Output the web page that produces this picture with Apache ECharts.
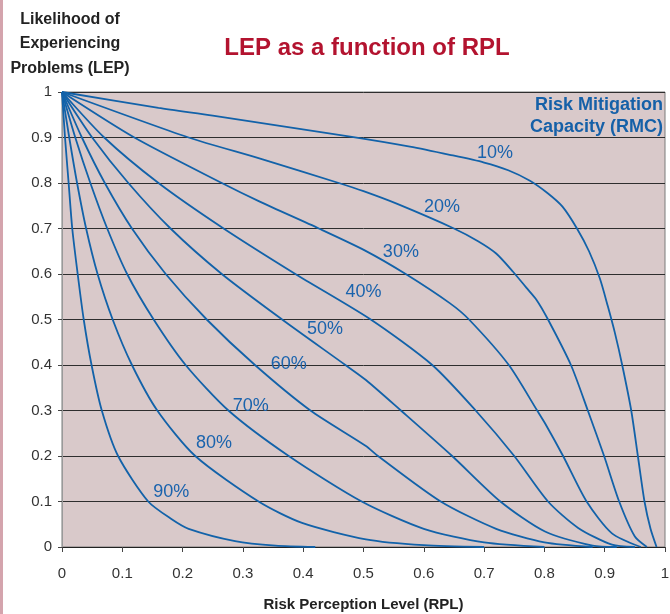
<!DOCTYPE html>
<html>
<head>
<meta charset="utf-8">
<script src="https://cdn.jsdelivr.net/npm/echarts@6/dist/echarts.min.js"></script>
<style>
html,body{margin:0;padding:0;background:#fff;}
#chart{width:670px;height:614px;}
</style>
</head>
<body>
<div id="chart"></div>
<script>
// RMC curve names
var curveNames = ['10%','20%','30%','40%','50%','60%','70%','80%','90%'];

// [RPL, LEP] points
var rmc10 = [[0,1],[0.16,0.965],[0.25,0.948],[0.478,0.902],[0.577,0.88],[0.643,0.862],[0.70,0.845],[0.74,0.828],[0.776,0.805],[0.805,0.778],[0.83,0.748],[0.854,0.7],[0.874,0.65],[0.892,0.59],[0.905,0.53],[0.917,0.47],[0.929,0.4],[0.944,0.3],[0.955,0.2],[0.966,0.1],[0.976,0.04],[0.986,0]];
var rmc20 = [[0,1],[0.21,0.9],[0.33,0.853],[0.459,0.8],[0.5,0.782],[0.556,0.754],[0.65,0.7],[0.69,0.672],[0.72,0.645],[0.748,0.605],[0.77,0.57],[0.787,0.543],[0.806,0.5],[0.844,0.4],[0.872,0.3],[0.899,0.2],[0.924,0.1],[0.95,0.023],[0.97,0]];
var rmc30 = [[0,1],[0.12,0.9],[0.265,0.8],[0.328,0.759],[0.426,0.7],[0.502,0.652],[0.57,0.6],[0.643,0.536],[0.675,0.5],[0.741,0.4],[0.788,0.3],[0.801,0.272],[0.831,0.2],[0.87,0.1],[0.912,0.03],[0.96,0]];
var rmc40 = [[0,1],[0.07,0.9],[0.16,0.8],[0.268,0.7],[0.387,0.6],[0.512,0.5],[0.614,0.4],[0.686,0.3],[0.75,0.2],[0.806,0.1],[0.856,0.042],[0.912,0.005],[0.95,0]];
var rmc50 = [[0,1],[0.05,0.9],[0.11,0.8],[0.18,0.7],[0.265,0.6],[0.365,0.5],[0.47,0.4],[0.504,0.367],[0.562,0.3],[0.647,0.2],[0.727,0.1],[0.801,0.034],[0.88,0.003],[0.92,0]];
var rmc60 = [[0,1],[0.033,0.9],[0.071,0.8],[0.116,0.7],[0.172,0.6],[0.24,0.5],[0.32,0.4],[0.412,0.3],[0.504,0.222],[0.524,0.2],[0.628,0.1],[0.72,0.04],[0.8,0.01],[0.88,0]];
var rmc70 = [[0,1],[0.022,0.9],[0.047,0.8],[0.075,0.7],[0.108,0.6],[0.152,0.5],[0.205,0.4],[0.276,0.3],[0.376,0.2],[0.497,0.1],[0.6,0.04],[0.7,0.01],[0.8,0]];
var rmc80 = [[0,1],[0.012,0.9],[0.025,0.8],[0.04,0.7],[0.059,0.6],[0.084,0.5],[0.116,0.4],[0.158,0.3],[0.221,0.2],[0.326,0.1],[0.398,0.053],[0.504,0.017],[0.6,0.004],[0.7,0]];
var rmc90 = [[0,1],[0.005,0.9],[0.011,0.8],[0.017,0.7],[0.026,0.6],[0.036,0.5],[0.049,0.4],[0.066,0.3],[0.093,0.2],[0.143,0.1],[0.182,0.061],[0.21,0.04],[0.287,0.013],[0.354,0.003],[0.42,0]];

// label anchor points (data coordinates) for the curve labels
var labelAnchors = [[0.718,0.866],[0.630,0.747],[0.562,0.648],[0.500,0.560],[0.436,0.479],[0.376,0.402],[0.313,0.310],[0.252,0.229],[0.181,0.121]];

var curves = [rmc10, rmc20, rmc30, rmc40, rmc50, rmc60, rmc70, rmc80, rmc90];

var NARROW = "'Liberation Sans Narrow', 'Arial Narrow', 'Liberation Sans', Arial, sans-serif";
var REG = "'Liberation Sans', Arial, sans-serif";
var BLUE = '#1262a9';

var chart = echarts.init(document.getElementById('chart'), null, {renderer: 'canvas'});

var series = curves.map(function (pts, i) {
  return {
    name: curveNames[i],
    type: 'line',
    data: pts,
    smooth: 0.25,
    symbol: 'none',
    lineStyle: {color: BLUE, width: 1.8},
    z: 3,
    markPoint: {
      symbol: 'circle',
      symbolSize: 1,
      itemStyle: {color: 'rgba(0,0,0,0)'},
      label: {
        show: true,
        position: 'inside',
        formatter: curveNames[i],
        color: '#1a63ad',
        fontFamily: NARROW,
        fontSize: 18
      },
      data: [{coord: labelAnchors[i]}]
    }
  };
});

var option = {
  backgroundColor: '#ffffff',
  animation: false,
  grid: {
    left: 62, right: 5, top: 92, bottom: 67,
    outerBoundsMode: 'none',
    containLabel: false,
    show: true,
    backgroundColor: '#d9c9ca',
    borderColor: '#7a7a7a',
    borderWidth: 1
  },
  xAxis: {
    type: 'value',
    min: 0, max: 1, interval: 0.1,
    name: 'Risk Perception Level (RPL)',
    nameLocation: 'middle',
    nameGap: 50,
    nameTextStyle: {fontFamily: REG, fontWeight: 'bold', fontSize: 15, color: '#222'},
    axisLine: {show: true, lineStyle: {color: '#222', width: 1}},
    axisTick: {show: true, length: 5, lineStyle: {color: '#444'}},
    axisLabel: {
      margin: 19,
      fontFamily: NARROW, fontSize: 15, color: '#333',
      formatter: function (v) { return String(+v.toFixed(1)); }
    },
    splitLine: {show: false}
  },
  yAxis: {
    type: 'value',
    min: 0, max: 1, interval: 0.1,
    axisLine: {show: true, lineStyle: {color: '#999', width: 1}},
    axisTick: {show: true, length: 4, lineStyle: {color: '#444'}},
    axisLabel: {
      margin: 10,
      fontFamily: NARROW, fontSize: 15, color: '#333',
      formatter: function (v) { return String(+v.toFixed(1)); }
    },
    splitLine: {show: true, lineStyle: {color: '#2e2e2e', width: 1}}
  },
  graphic: [
    {type: 'rect', left: 0, top: 0, shape: {width: 3, height: 614}, style: {fill: '#d4a4ad'}, z: 10},
    {
      type: 'text', x: 367, y: 36, z: 10,
      style: {text: 'LEP as a function of RPL', fill: '#b3132f', font: "bold 24px 'Liberation Sans', Arial, sans-serif", textAlign: 'center'}
    },
    {
      type: 'text', x: 70, y: 7, z: 10,
      style: {
        text: 'Likelihood of\nExperiencing\nProblems (LEP)',
        fill: '#222',
        font: "bold 16px 'Liberation Sans', Arial, sans-serif",
        textAlign: 'center',
        lineHeight: 24.5
      }
    },
    {
      type: 'text', x: 663, y: 94, z: 10,
      style: {
        text: 'Risk Mitigation\nCapacity (RMC)',
        fill: '#1560a8',
        font: "bold 18px 'Liberation Sans', Arial, sans-serif",
        textAlign: 'right',
        lineHeight: 22
      }
    }
  ],
  series: series
};

chart.setOption(option);
</script>
</body>
</html>
